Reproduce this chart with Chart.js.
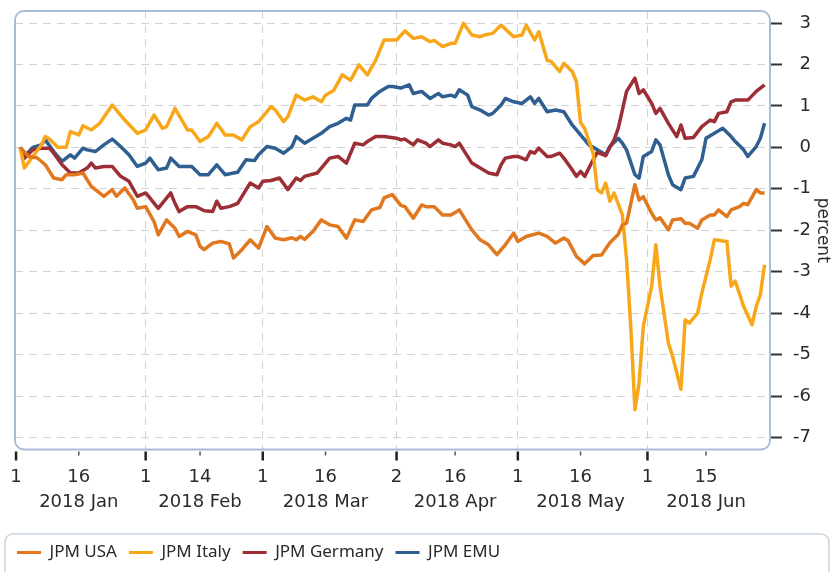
<!DOCTYPE html>
<html>
<head>
<meta charset="UTF-8">
<title>JPM indices 2018</title>
<script src="https://cdn.jsdelivr.net/npm/chart.js@4.4.0/dist/chart.umd.min.js"></script>
<style>
	body { margin: 0; background: #fff; }
</style>
</head>
<body>
	<canvas id="myChart" width="834" height="572"></canvas>

	<script>
		// x values are days since 1 Jan 2018
		const xTickDays = [0, 15, 31, 44, 59, 74, 91, 105, 120, 135, 151, 165];
		const xTickDayLabels = ['1', '16', '1', '14', '1', '16', '2', '16', '1', '16', '1', '15'];
		const xTickMonthLabels = ['', '2018 Jan', '', '2018 Feb', '', '2018 Mar', '', '2018 Apr', '', '2018 May', '', '2018 Jun'];
		const monthStarts = [0, 31, 59, 91, 120, 151];
		const yTicks = [3, 2, 1, 0, -1, -2, -3, -4, -5, -6, -7];

		const seriesNames = ['JPM USA', 'JPM Italy', 'JPM Germany', 'JPM EMU'];

		const usaDays = [1,3,5,7,9,11,12,14,16,18,21,23,24,26,28,29,31,33,34,36,38,39,41,43,44,45,47,49,51,52,54,56,58,60,62,64,66,67,68,69,71,73,75,77,79,81,83,85,87,88,90,92,93,95,97,98,100,102,104,106,109,111,113,115,117,119,120,122,125,127,129,131,132,134,136,138,140,142,144,145,146,148,149,150,152,153,154,156,157,159,160,161,163,164,166,167,168,170,171,173,174,175,177,178,179];
		const usaVals = [0,-0.22,-0.25,-0.42,-0.74,-0.78,-0.66,-0.66,-0.62,-0.94,-1.18,-1.02,-1.18,-0.98,-1.26,-1.47,-1.43,-1.79,-2.11,-1.75,-1.95,-2.15,-2.03,-2.11,-2.39,-2.47,-2.31,-2.27,-2.33,-2.67,-2.47,-2.23,-2.43,-1.91,-2.19,-2.23,-2.18,-2.23,-2.15,-2.22,-2.03,-1.75,-1.87,-1.91,-2.19,-1.75,-1.79,-1.51,-1.45,-1.22,-1.14,-1.4,-1.43,-1.71,-1.39,-1.43,-1.43,-1.63,-1.63,-1.51,-1.99,-2.23,-2.35,-2.59,-2.35,-2.07,-2.27,-2.15,-2.07,-2.15,-2.31,-2.19,-2.25,-2.63,-2.81,-2.61,-2.6,-2.3,-2.1,-1.87,-1.83,-0.9,-1.27,-1.19,-1.59,-1.75,-1.7,-1.99,-1.75,-1.72,-1.83,-1.83,-1.95,-1.75,-1.63,-1.63,-1.51,-1.67,-1.51,-1.43,-1.35,-1.38,-1.02,-1.1,-1.1];

		const italyDays = [1,2,4,6,7,8,10,12,13,15,16,18,20,23,26,29,31,33,35,36,38,41,42,44,46,48,50,52,54,56,58,61,62,64,65,67,69,71,73,74,76,78,80,82,84,86,88,91,93,95,97,99,100,102,104,105,107,109,111,112,114,116,119,121,122,124,125,127,128,130,131,133,134,135,136,138,139,140,141,142,143,145,146,147,148,149,150,152,153,154,156,157,159,160,161,163,164,166,167,170,171,172,174,176,177,178,179];
		const italyVals = [0,-0.5,-0.22,0.05,0.26,0.2,0,0,0.38,0.3,0.52,0.42,0.58,1.02,0.66,0.34,0.42,0.78,0.46,0.5,0.94,0.42,0.42,0.14,0.26,0.58,0.3,0.3,0.18,0.5,0.62,0.98,0.9,0.62,0.74,1.26,1.14,1.22,1.1,1.26,1.38,1.75,1.62,1.99,1.75,2.1,2.59,2.59,2.81,2.63,2.67,2.55,2.58,2.43,2.51,2.51,2.99,2.71,2.67,2.71,2.75,2.95,2.67,2.71,2.95,2.59,2.79,2.1,2.07,1.83,2.03,1.83,1.59,0.6,0.45,-0.14,-1.02,-1.1,-0.86,-1.3,-1.1,-1.63,-2.71,-4.32,-6.33,-5.68,-4.32,-3.35,-2.35,-3.35,-4.72,-5.04,-5.84,-4.16,-4.24,-4.0,-3.51,-2.71,-2.23,-2.27,-3.35,-3.23,-3.84,-4.28,-3.84,-3.55,-2.83];

		const germanyDays = [1,2,4,6,8,9,11,13,15,17,18,19,21,23,24,25,27,29,31,32,34,37,38,39,41,43,45,47,48,49,51,53,56,58,59,61,63,65,67,68,69,72,74,75,77,79,81,83,84,86,88,91,92,93,95,96,98,99,101,102,104,105,106,107,109,111,113,115,116,117,119,120,122,123,124,125,127,128,130,131,133,134,135,136,137,138,139,141,142,143,144,145,146,148,149,150,152,153,154,156,158,159,160,162,164,166,167,168,170,171,172,174,175,177,179];
		const germanyVals = [0,-0.26,-0.06,-0.02,-0.02,-0.14,-0.42,-0.62,-0.62,-0.5,-0.38,-0.5,-0.46,-0.46,-0.58,-0.7,-0.82,-1.18,-1.1,-1.22,-1.47,-1.1,-1.35,-1.55,-1.43,-1.43,-1.53,-1.55,-1.3,-1.47,-1.43,-1.35,-0.86,-0.98,-0.82,-0.8,-0.74,-1.02,-0.74,-0.8,-0.7,-0.62,-0.38,-0.26,-0.22,-0.38,0.1,0.06,0.14,0.26,0.26,0.22,0.18,0.2,0.06,0.18,0.1,0.02,0.18,0.1,0.06,0.02,0.1,-0.06,-0.38,-0.5,-0.62,-0.66,-0.42,-0.26,-0.22,-0.22,-0.3,-0.1,-0.14,-0.02,-0.22,-0.22,-0.14,-0.26,-0.54,-0.7,-0.58,-0.7,-0.5,-0.3,-0.12,-0.2,0,0.18,0.46,0.9,1.35,1.67,1.3,1.39,1.06,0.82,0.94,0.58,0.26,0.54,0.22,0.24,0.5,0.66,0.62,0.82,0.86,1.1,1.14,1.14,1.14,1.35,1.51];

		const emuDays = [1,2,4,6,7,9,11,13,14,16,17,19,21,23,25,27,29,31,32,34,36,37,39,41,42,44,46,48,50,52,53,55,57,58,60,62,64,66,67,69,71,73,75,77,79,80,81,83,84,85,87,89,90,92,94,95,97,99,101,102,104,105,106,108,109,111,113,114,116,117,119,121,123,124,125,127,129,131,133,135,137,139,141,142,144,145,146,148,149,150,152,153,154,156,157,159,160,162,164,165,167,169,171,172,174,175,177,178,179];
		const emuVals = [0,-0.22,0,0.06,0.18,-0.1,-0.34,-0.18,-0.26,-0.02,-0.06,-0.1,0.06,0.2,0.02,-0.18,-0.46,-0.38,-0.26,-0.54,-0.5,-0.26,-0.46,-0.46,-0.46,-0.66,-0.66,-0.42,-0.66,-0.62,-0.6,-0.3,-0.32,-0.18,0.02,-0.02,-0.14,0.02,0.26,0.1,0.22,0.34,0.5,0.58,0.7,0.66,1.02,1.02,1.02,1.18,1.35,1.47,1.47,1.43,1.51,1.3,1.35,1.18,1.3,1.22,1.26,1.22,1.39,1.26,0.98,0.9,0.78,0.82,1.02,1.18,1.1,1.06,1.22,1.06,1.18,0.86,0.9,0.86,0.54,0.3,0.06,-0.06,-0.18,0.02,0.22,0.1,-0.06,-0.66,-0.74,-0.22,-0.1,0.18,0.06,-0.66,-0.9,-1.02,-0.74,-0.7,-0.3,0.22,0.34,0.46,0.26,0.14,-0.06,-0.22,0.02,0.22,0.58];

		const seriesColors = ['#e1781e', '#f9a71a', '#9d2e36', '#2f5e91'];

		function toPoints(days, vals) {
			return days.map((d, i) => ({ x: d, y: vals[i] }));
		}

		const axisFont = { family: 'DejaVu Sans', size: 18, lineHeight: 1.35 };

		// rounded plot frame, x tick marks, legend box
		const framePlugin = {
			id: 'frame',
			afterDraw(chart) {
				const ctx = chart.ctx;
				const a = chart.chartArea;
				ctx.save();
				ctx.strokeStyle = '#a8bcd9';
				ctx.lineWidth = 2;
				ctx.beginPath();
				ctx.roundRect(a.left, a.top, a.right - a.left, a.bottom - a.top, 9);
				ctx.stroke();

				const xs = chart.scales.x;
				xs.ticks.forEach(t => {
					const px = xs.getPixelForValue(t.value);
					const major = monthStarts.includes(t.value);
					ctx.strokeStyle = major ? '#222' : '#555';
					ctx.lineWidth = major ? 2.5 : 1.5;
					ctx.beginPath();
					ctx.moveTo(px, a.bottom + 2);
					ctx.lineTo(px, a.bottom + (major ? 11 : 6));
					ctx.stroke();
				});

				const lg = chart.legend;
				ctx.strokeStyle = '#c9d3e0';
				ctx.lineWidth = 1.5;
				ctx.beginPath();
				ctx.roundRect(5, lg.top + 2, chart.width - 10, 60, 8);
				ctx.stroke();
				ctx.restore();
			}
		};

		new Chart('myChart', {
			type: 'line',
			data: {
				datasets: [
					{ label: seriesNames[0], data: toPoints(usaDays, usaVals) },
					{ label: seriesNames[1], data: toPoints(italyDays, italyVals) },
					{ label: seriesNames[2], data: toPoints(germanyDays, germanyVals) },
					{ label: seriesNames[3], data: toPoints(emuDays, emuVals) }
				].map((ds, i) => Object.assign(ds, {
					borderColor: seriesColors[i],
					backgroundColor: seriesColors[i],
					borderWidth: 3.5,
					pointRadius: 0,
					tension: 0,
					borderJoinStyle: 'round'
				}))
			},
			options: {
				responsive: false,
				animation: false,
				layout: { padding: { left: 5, top: 11, right: 23, bottom: 1 } },
				plugins: {
					tooltip: { enabled: false },
					legend: {
						position: 'bottom',
						align: 'start',
						labels: {
							boxWidth: 24,
							boxHeight: 3,
							padding: 12,
							color: '#2a2a2a',
							font: { family: 'Noto Sans', size: 17 },
							generateLabels: chart => Chart.defaults.plugins.legend.labels.generateLabels(chart)
								.map(l => Object.assign(l, { lineWidth: 0 }))
						}
					}
				},
				scales: {
					x: {
						type: 'linear',
						min: -0.25,
						max: 180.3,
						afterBuildTicks: s => { s.ticks = xTickDays.map(v => ({ value: v })); },
						afterFit: s => { s.height = 82.5; s.paddingLeft = 0; s.paddingRight = 0; },
						grid: {
							drawTicks: false,
							color: c => (c.tick && c.tick.value > 0 && monthStarts.includes(c.tick.value)) ? '#d2d2d2' : 'rgba(0,0,0,0)'
						},
						border: { display: false, dash: [8, 6] },
						ticks: {
							autoSkip: false,
							maxRotation: 0,
							padding: 16,
							color: '#2a2a2a',
							font: axisFont,
							callback: (v, i) => xTickMonthLabels[i] ? [xTickDayLabels[i], xTickMonthLabels[i]] : xTickDayLabels[i]
						}
					},
					y: {
						position: 'right',
						min: -7.29,
						max: 3.29,
						afterBuildTicks: s => { s.ticks = yTicks.map(v => ({ value: v })); },
						afterFit: s => { s.width = 41; s.paddingTop = 0; s.paddingBottom = 0; },
						grid: { color: '#d2d2d2', tickColor: '#333', tickWidth: 2, tickLength: 12 },
						border: { display: false, dash: [8, 6] },
						ticks: { padding: 11, crossAlign: 'far', color: '#2a2a2a', font: axisFont },
						title: {
							display: true,
							text: 'percent',
							color: '#2a2a2a',
							font: { family: 'DejaVu Sans', size: 17, lineHeight: 1.2 },
							padding: { top: -22, bottom: 4 }
						}
					},
					yl: {
						axis: 'y',
						position: 'left',
						display: true,
						afterFit: s => { s.width = 10; },
						grid: { display: false },
						border: { display: false },
						ticks: { display: false }
					}
				}
			},
			plugins: [framePlugin]
		});
	</script>
</body>
</html>
